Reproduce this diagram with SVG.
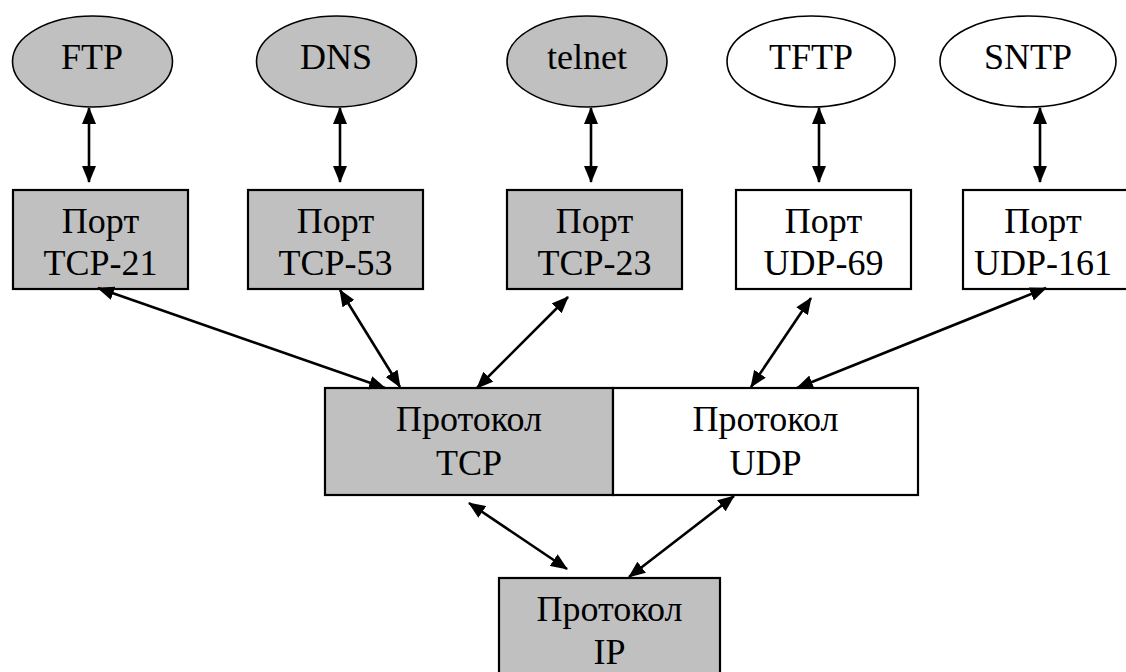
<svg xmlns="http://www.w3.org/2000/svg" width="1126" height="672" viewBox="0 0 1126 672">
<style>
.g{fill:#c0c0c0}
.w{fill:#ffffff}
.box{stroke:#000;stroke-width:2.2}
.ell{stroke:#000;stroke-width:1.6}
.t{font-family:"Liberation Serif","Times New Roman",serif;font-size:36px;fill:#000;text-anchor:middle}
.te{font-family:"Liberation Serif","Times New Roman",serif;font-size:36px;fill:#000;text-anchor:middle}
.c line{stroke:#000;stroke-width:2.6;marker-start:url(#ah);marker-end:url(#ah)}
</style>
<defs>
<marker id="ah" markerUnits="userSpaceOnUse" markerWidth="17" markerHeight="14" viewBox="0 0 17 14" refX="16" refY="7" orient="auto-start-reverse">
<path d="M0,0 L17,7 L0,14 z" fill="#000"/>
</marker>
</defs>
<rect width="1126" height="672" fill="#fff"/>
<g id="ftp"><ellipse class="ell g" cx="92.5" cy="61.5" rx="80" ry="45.5"/><text class="te" x="92" y="69">FTP</text></g>
<g id="dns"><ellipse class="ell g" cx="336.5" cy="61.5" rx="80" ry="45.5"/><text class="te" x="336" y="69">DNS</text></g>
<g id="telnet"><ellipse class="ell g" cx="587" cy="61.5" rx="80" ry="45.5"/><text class="te" x="587" y="69">telnet</text></g>
<g id="tftp"><ellipse class="ell w" cx="811" cy="61.5" rx="84" ry="45.5"/><text class="te" x="811" y="69">TFTP</text></g>
<g id="sntp"><ellipse class="ell w" cx="1028" cy="61.5" rx="88" ry="45.5"/><text class="te" x="1028" y="69">SNTP</text></g>

<g id="tcp21"><rect class="box g" x="13" y="190" width="175" height="99"/><text class="t" x="100.5" y="233">Порт</text><text class="t" x="100.5" y="275">TCP-21</text></g>
<g id="tcp53"><rect class="box g" x="248" y="190" width="175" height="99"/><text class="t" x="335.5" y="233">Порт</text><text class="t" x="335.5" y="275">TCP-53</text></g>
<g id="tcp23"><rect class="box g" x="507" y="190" width="175" height="99"/><text class="t" x="594.5" y="233">Порт</text><text class="t" x="594.5" y="275">TCP-23</text></g>
<g id="udp69"><rect class="box w" x="736" y="190" width="175" height="99"/><text class="t" x="823.5" y="233">Порт</text><text class="t" x="823.5" y="275">UDP-69</text></g>
<g id="udp161"><rect class="box w" x="963" y="190" width="175" height="99"/><text class="t" x="1043" y="233">Порт</text><text class="t" x="1043" y="275">UDP-161</text></g>

<g id="tcp"><rect class="box g" x="325" y="388" width="288" height="107"/><text class="t" x="469" y="431">Протокол</text><text class="t" x="469" y="475">TCP</text></g>
<g id="udp"><rect class="box w" x="613" y="388" width="305" height="107"/><text class="t" x="765.5" y="431">Протокол</text><text class="t" x="765.5" y="475">UDP</text></g>
<g id="ip"><rect class="box g" x="499" y="578" width="221" height="110"/><text class="t" x="609.5" y="621">Протокол</text><text class="t" x="609.5" y="664">IP</text></g>

<g class="c" id="connectors">
<line x1="89" y1="108" x2="89" y2="182"/>
<line x1="340" y1="108" x2="340" y2="182"/>
<line x1="591" y1="108" x2="591" y2="182"/>
<line x1="819" y1="108" x2="819" y2="182"/>
<line x1="1040" y1="108" x2="1040" y2="182"/>
<line x1="98" y1="288" x2="385" y2="388"/>
<line x1="340" y1="290" x2="400" y2="387"/>
<line x1="568" y1="297" x2="477" y2="388"/>
<line x1="811" y1="298" x2="751" y2="387"/>
<line x1="1046" y1="288" x2="797" y2="388"/>
<line x1="469" y1="503" x2="567" y2="569"/>
<line x1="734" y1="496" x2="629" y2="577"/>
</g>
</svg>
